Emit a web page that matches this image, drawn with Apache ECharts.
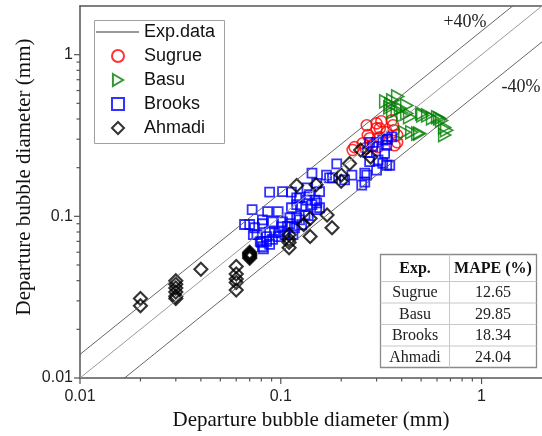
<!DOCTYPE html>
<html>
<head>
<meta charset="utf-8">
<script src="https://cdn.jsdelivr.net/npm/echarts@6/dist/echarts.min.js"></script>
<style>
html,body{margin:0;padding:0;background:#fff;}
#chart{width:542px;height:436px;}
</style>
</head>
<body>
<div id="chart"></div>
<script>
// ---- data ----
const sugrue = [[0.233,0.268],[0.256,0.283],[0.268,0.366],[0.277,0.304],[0.287,0.275],[0.300,0.376],[0.311,0.350],[0.311,0.308],[0.337,0.331],[0.362,0.366],[0.380,0.318],[0.380,0.287],[0.317,0.387],[0.357,0.393],[0.271,0.318],[0.300,0.350],[0.366,0.341],[0.369,0.275],[0.265,0.264],[0.305,0.268],[0.228,0.257]];
const basu = [[0.333,0.514],[0.353,0.492],[0.382,0.552],[0.361,0.521],[0.349,0.472],[0.380,0.452],[0.395,0.465],[0.424,0.485],[0.424,0.433],[0.405,0.421],[0.361,0.439],[0.438,0.410],[0.503,0.433],[0.509,0.421],[0.539,0.421],[0.570,0.404],[0.604,0.410],[0.618,0.404],[0.632,0.391],[0.655,0.355],[0.670,0.341],[0.655,0.318],[0.414,0.331],[0.449,0.331],[0.481,0.325],[0.492,0.325]];
const brooks = [[0.072,0.110],[0.088,0.141],[0.102,0.142],[0.113,0.141],[0.143,0.185],[0.190,0.211],[0.169,0.180],[0.181,0.173],[0.226,0.180],[0.268,0.180],[0.262,0.163],[0.300,0.193],[0.337,0.207],[0.270,0.249],[0.300,0.287],[0.337,0.300],[0.329,0.245],[0.305,0.223],[0.135,0.150],[0.139,0.136],[0.124,0.130],[0.070,0.089],[0.073,0.077],[0.079,0.070],[0.081,0.065],[0.086,0.107],[0.097,0.107],[0.081,0.095],[0.091,0.0925],[0.099,0.080],[0.088,0.080],[0.091,0.072],[0.085,0.070],[0.113,0.113],[0.120,0.118],[0.127,0.115],[0.143,0.118],[0.156,0.113],[0.111,0.098],[0.120,0.098],[0.132,0.102],[0.151,0.110],[0.102,0.0925],[0.108,0.0865],[0.117,0.085],[0.127,0.0887],[0.097,0.075],[0.105,0.077],[0.115,0.077],[0.120,0.130],[0.135,0.126],[0.148,0.126],[0.156,0.142],[0.175,0.173],[0.208,0.168],[0.277,0.218],[0.322,0.213],[0.349,0.207],[0.337,0.275],[0.262,0.185],[0.253,0.156],[0.277,0.287],[0.322,0.296],[0.340,0.300],[0.287,0.270],[0.357,0.310],[0.151,0.121],[0.081,0.090],[0.101,0.086],[0.111,0.090],[0.124,0.095],[0.137,0.101],[0.076,0.077],[0.085,0.075],[0.093,0.079],[0.080,0.069],[0.088,0.067],[0.074,0.085],[0.151,0.160],[0.066,0.089],[0.082,0.063]];
const ahmadi = [[0.02,0.031],[0.02,0.028],[0.03,0.040],[0.03,0.038],[0.03,0.036],[0.03,0.034],[0.03,0.032],[0.03,0.031],[0.04,0.047],[0.06,0.049],[0.06,0.044],[0.06,0.041],[0.06,0.039],[0.06,0.035],[0.07,0.055],[0.07,0.056],[0.07,0.057],[0.07,0.058],[0.07,0.059],[0.07,0.060],[0.11,0.077],[0.11,0.072],[0.11,0.069],[0.11,0.064],[0.13,0.089],[0.14,0.097],[0.14,0.075],[0.12,0.155],[0.15,0.157],[0.17,0.102],[0.18,0.085],[0.20,0.180],[0.20,0.165],[0.22,0.212],[0.25,0.257],[0.28,0.233]];
const expLine = [[0.01,0.01],[2,2]];
const plus40Line = [[0.01,0.014],[1.4286,2]];
const minus40Line = [[0.01667,0.01],[2,1.2]];
const tickValues = [0.01,0.02,0.03,0.04,0.05,0.06,0.07,0.08,0.09,0.1,0.2,0.3,0.4,0.5,0.6,0.7,0.8,0.9,1];
const lineLegend = ['Exp.data'];
const markerLegend = ['Sugrue', 'Basu', 'Brooks', 'Ahmadi'];
const tableHeader = ['Exp.', 'MAPE (%)'];
const tableNames = ['Sugrue', 'Basu', 'Brooks', 'Ahmadi'];
const tableMape = ['12.65', '29.85', '18.34', '24.04'];
const axisTitle = 'Departure bubble diameter (mm)';
const X_MIN = 0.01, X_MAX = 2, Y_MIN = 0.01, Y_MAX = 2;

// ---- chart ----
const chart = echarts.init(document.getElementById('chart'), null, {renderer: 'canvas'});
const SANS = 'Liberation Sans, Arial, sans-serif';
const SERIF = 'Liberation Serif, Times New Roman, serif';
const AXIS_COLOR = '#555';
const RIGHT_TRIANGLE_ICON = 'path://M0,0L11,6.5L0,13Z';

function isMajor(v) {
  const l = Math.log10(v);
  return Math.abs(l - Math.round(l)) < 1e-6;
}

function tickRenderer(dir) {
  return function (params, api) {
    const v0 = api.value(0), v1 = api.value(1);
    const p = api.coord([v0, v1]);
    const len = isMajor(dir === 'x' ? v0 : v1) ? 6 : 3.5;
    const shape = dir === 'x'
      ? {x1: p[0], y1: p[1], x2: p[0], y2: p[1] + len}
      : {x1: p[0], y1: p[1], x2: p[0] - len, y2: p[1]};
    return {type: 'line', shape: shape, style: {stroke: AXIS_COLOR, lineWidth: 1.2}, silent: true};
  };
}

// table graphic
const tableLeft = 378, tableTop = 252, col1W = 69, tableW = 156, headH = 27, rowH = 21.5;
const tableEls = [];
tableEls.push({type: 'rect', shape: {x: 0, y: 0, width: tableW, height: headH + rowH * tableNames.length},
  style: {fill: '#fff', stroke: '#8a8a8a', lineWidth: 1.3}});
tableEls.push({type: 'line', shape: {x1: col1W, y1: 0, x2: col1W, y2: headH + rowH * tableNames.length},
  style: {stroke: '#c8c8c8', lineWidth: 1}});
for (let i = 0; i < tableNames.length; i++) {
  const y = headH + rowH * i;
  tableEls.push({type: 'line', shape: {x1: 0, y1: y, x2: tableW, y2: y}, style: {stroke: '#c8c8c8', lineWidth: 1}});
}
tableEls.push({type: 'text', x: col1W / 2, y: headH / 2 + 1, style: {text: tableHeader[0], font: 'bold 16px ' + SERIF, fill: '#111', textAlign: 'center', textVerticalAlign: 'middle'}});
tableEls.push({type: 'text', x: col1W + (tableW - col1W) / 2, y: headH / 2 + 1, style: {text: tableHeader[1], font: 'bold 16px ' + SERIF, fill: '#111', textAlign: 'center', textVerticalAlign: 'middle'}});
for (let i = 0; i < tableNames.length; i++) {
  const cy = headH + rowH * i + rowH / 2 + 1;
  tableEls.push({type: 'text', x: col1W / 2, y: cy, style: {text: tableNames[i], font: '16px ' + SERIF, fill: '#222', textAlign: 'center', textVerticalAlign: 'middle'}});
  tableEls.push({type: 'text', x: col1W + (tableW - col1W) / 2, y: cy, style: {text: tableMape[i], font: '16px ' + SERIF, fill: '#222', textAlign: 'center', textVerticalAlign: 'middle'}});
}

const legendText = {fontFamily: SANS, fontSize: 18, color: '#111'};

const option = {
  animation: false,
  backgroundColor: '#fff',
  grid: {left: 80, right: 0, top: 6, bottom: 57, containLabel: false},
  legend: [{
    orient: 'vertical', left: 95, top: 23, padding: 0,
    data: lineLegend,
    itemWidth: 43, itemHeight: 12, itemGap: 6,
    textStyle: legendText
  }, {
    orient: 'vertical', left: 111, top: 47, padding: 0,
    data: markerLegend.map(n => n === 'Basu' ? {name: n, icon: RIGHT_TRIANGLE_ICON} : {name: n}),
    itemWidth: 12, itemHeight: 12, itemGap: 6,
    textStyle: Object.assign({padding: [0, 0, 0, 15]}, legendText)
  }],
  xAxis: [{
    type: 'log', logBase: 10, min: X_MIN, max: X_MAX,
    name: axisTitle, nameLocation: 'middle', nameGap: 32,
    nameTextStyle: {fontFamily: SERIF, fontSize: 21, color: '#111'},
    axisLine: {show: true, onZero: false, lineStyle: {color: AXIS_COLOR, width: 1.5}},
    axisTick: {show: false},
    axisLabel: {fontFamily: SANS, fontSize: 16, color: '#222', margin: 11, showMaxLabel: false, showMinLabel: true},
    splitLine: {show: false}
  }, {
    type: 'log', logBase: 10, min: X_MIN, max: X_MAX, position: 'top',
    axisLine: {show: true, onZero: false, lineStyle: {color: AXIS_COLOR, width: 1.5}},
    axisTick: {show: false}, axisLabel: {show: false}, splitLine: {show: false}
  }],
  yAxis: [{
    type: 'log', logBase: 10, min: Y_MIN, max: Y_MAX,
    axisLine: {show: true, onZero: false, lineStyle: {color: AXIS_COLOR, width: 1.5}},
    axisTick: {show: false},
    axisLabel: {fontFamily: SANS, fontSize: 16, color: '#222', margin: 7, showMaxLabel: false},
    splitLine: {show: false}
  }],
  graphic: [
    {type: 'rect', left: 92, top: 18, shape: {x: 0, y: 0, width: 130, height: 123},
      style: {fill: 'none', stroke: '#a0a0a0', lineWidth: 1}},
    {type: 'text', x: 24, y: 177, rotation: Math.PI / 2,
      style: {text: axisTitle, font: '21px ' + SERIF, fill: '#111', textAlign: 'center', textVerticalAlign: 'middle'}},
    {type: 'text', x: 465, y: 22, style: {text: '+40%', font: '18px ' + SERIF, fill: '#222', textAlign: 'center', textVerticalAlign: 'middle'}},
    {type: 'text', x: 521, y: 87, style: {text: '-40%', font: '18px ' + SERIF, fill: '#222', textAlign: 'center', textVerticalAlign: 'middle'}},
    {type: 'group', left: tableLeft, top: tableTop, children: tableEls}
  ],
  series: [
    {name: 'Exp.data', type: 'line', data: expLine, symbol: 'none', silent: true,
      lineStyle: {color: '#9a9a9a', width: 1}, itemStyle: {color: 'rgba(0,0,0,0)', borderWidth: 0}},
    {type: 'line', data: plus40Line, symbol: 'none', silent: true, lineStyle: {color: '#555', width: 0.9}},
    {type: 'line', data: minus40Line, symbol: 'none', silent: true, lineStyle: {color: '#555', width: 0.9}},
    {name: 'Sugrue', type: 'scatter', data: sugrue, symbol: 'circle', symbolSize: 11,
      itemStyle: {color: 'rgba(0,0,0,0)', borderColor: '#ff0000', borderWidth: 1.6}},
    {name: 'Basu', type: 'scatter', data: basu, symbol: 'triangle', symbolSize: [13, 12], symbolRotate: -90,
      itemStyle: {color: 'rgba(0,0,0,0)', borderColor: '#008000', borderWidth: 1.6}},
    {name: 'Brooks', type: 'scatter', data: brooks, symbol: 'rect', symbolSize: 9,
      itemStyle: {color: 'rgba(0,0,0,0)', borderColor: '#0000ff', borderWidth: 1.8}},
    {name: 'Ahmadi', type: 'scatter', data: ahmadi, symbol: 'diamond', symbolSize: 13,
      itemStyle: {color: 'rgba(0,0,0,0)', borderColor: '#000000', borderWidth: 2.1}},
    {type: 'custom', silent: true, data: tickValues.map(v => [v, Y_MIN]), renderItem: tickRenderer('x'), z: 5},
    {type: 'custom', silent: true, data: tickValues.map(v => [X_MIN, v]), renderItem: tickRenderer('y'), z: 5}
  ]
};
chart.setOption(option);
</script>
</body>
</html>
